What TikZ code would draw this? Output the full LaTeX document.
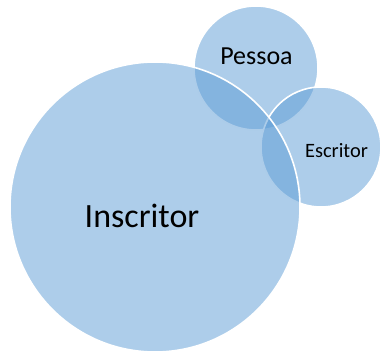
\documentclass[tikz,border=0pt]{standalone}
\usepackage{fontspec}
\setmainfont{Carlito}
\definecolor{vennblue}{HTML}{5B9BD5}
\begin{document}
\begin{tikzpicture}[x=1pt,y=-1pt,
  venn/.style={circle, fill=vennblue, fill opacity=0.5, draw=white, line width=1.6pt, inner sep=0pt},
  lbl/.style={anchor=base, text=black, text opacity=1}]
\useasboundingbox (0,0) rectangle (380,352);
% circles, later ones overlap earlier ones
\node[venn, minimum size=124pt] (pessoa) at (256,68) {};
\node[venn, minimum size=120pt] (escritor) at (321,147) {};
\node[venn, minimum size=290pt] (inscritor) at (155,207) {};
% labels
\node[lbl, font=\fontsize{34}{40}\selectfont] (tInscritor) at (142,228) {Inscritor};
\node[lbl, font=\fontsize{26}{30}\selectfont] (tPessoa) at (256.5,65) {Pessoa};
\node[lbl, font=\fontsize{20.4}{24}\selectfont] (tEscritor) at (336.5,158) {Escritor};
\end{tikzpicture}
\end{document}
